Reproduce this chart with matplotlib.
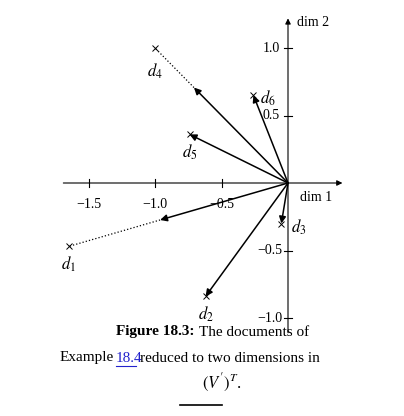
import numpy as np
import matplotlib.pyplot as plt

plt.rcParams['mathtext.fontset'] = 'stix'
plt.rcParams['font.family'] = ['Liberation Serif', 'DejaVu Serif']

# document coordinates in the reduced space
names = ['d_1', 'd_2', 'd_3', 'd_4', 'd_5', 'd_6']
xs = [-1.65, -0.62, -0.05, -1.00, -0.74, -0.26]
ys = [-0.47, -0.84, -0.30, 1.00, 0.36, 0.65]
xticks = [-1.5, -1.0, -0.5]
yticks = [1.0, 0.5, -0.5, -1.0]

W, H = 404, 416
ox, oy = 288, 183
sx, sy = 133, 135

fig = plt.figure(figsize=(W / 100, H / 100), dpi=100)
ax = fig.add_axes([0, 0, 1, 1])
ax.set_xlim(-ox / sx, (W - ox) / sx)
ax.set_ylim(-(H - oy) / sy, oy / sy)
ax.axis('off')

# axes through origin
ax.annotate('', xy=(0.43, 0), xytext=(-1.71, 0),
            arrowprops=dict(arrowstyle='-|>', lw=0.8, color='black', mutation_scale=8))
ax.annotate('', xy=(0, 1.24), xytext=(0, -1.13),
            arrowprops=dict(arrowstyle='-|>', lw=0.8, color='black', mutation_scale=8))
ax.text(0.09, -0.11, 'dim 1', fontsize=10, ha='left', va='center')
ax.text(0.07, 1.19, 'dim 2', fontsize=10, ha='left', va='center')

for t in xticks:
    ax.plot([t, t], [-0.03, 0.03], color='black', lw=0.8)
    ax.text(t, -0.16, f'\u2212{abs(t):.1f}', fontsize=10, ha='center', va='center')
for t in yticks:
    ax.plot([-0.03, 0.03], [t, t], color='black', lw=0.8)
    lab = f'{t:.1f}' if t > 0 else f'\u2212{abs(t):.1f}'
    ax.text(-0.06 if t > 0 else -0.04, t, lab, fontsize=10, ha='right', va='center')

label_off = {'d_1': (0, -0.13), 'd_2': (0, -0.13), 'd_3': (0.13, -0.03),
             'd_4': (0, -0.17), 'd_5': (0, -0.13), 'd_6': (0.11, -0.02)}
for n, x, y in zip(names, xs, ys):
    r = np.hypot(x, y)
    if r < 1.1:
        ux, uy = x, y
    else:
        ux, uy = x / r, y / r
    ax.annotate('', xy=(ux, uy), xytext=(0, 0),
                arrowprops=dict(arrowstyle='-|>', lw=1.1, color='black',
                                mutation_scale=10, shrinkA=0, shrinkB=0))
    if r >= 1.1:
        ax.plot([ux, x], [uy, y], ls=':', color='black', lw=0.9)
    ax.plot(x, y, marker='x', color='black', ms=4, mew=0.7)
    dx, dy = label_off[n]
    ax.text(x + dx, y + dy, f'${n}$', fontsize=12, ha='center', va='center')

# caption
def px(x, y):
    return x / W, 1 - y / H

fig.text(*px(195, 332), 'Figure 18.3:', fontsize=11, fontweight='bold',
         ha='right', va='center')
fig.text(*px(199, 332), 'The documents of', fontsize=11, ha='left', va='center')
fig.text(*px(60, 358), 'Example', fontsize=11, ha='left', va='center')
fig.text(*px(116, 358), '18.4', fontsize=11, ha='left', va='center', color='#2222cc')
ax.plot([(116 - ox) / sx, (136 - ox) / sx], [-(366 - oy) / sy] * 2, color='#2222cc', lw=0.8)
fig.text(*px(140, 358), 'reduced to two dimensions in', fontsize=11, ha='left', va='center')
fig.text(*px(222, 383), r"$(V')^T$.", fontsize=12, ha='center', va='center')
fig.lines.append(plt.Line2D([180 / W, 222 / W], [1 - 405 / H] * 2, color='black', lw=1.2,
                            transform=fig.transFigure))

fig.savefig('out.png', dpi=100)
